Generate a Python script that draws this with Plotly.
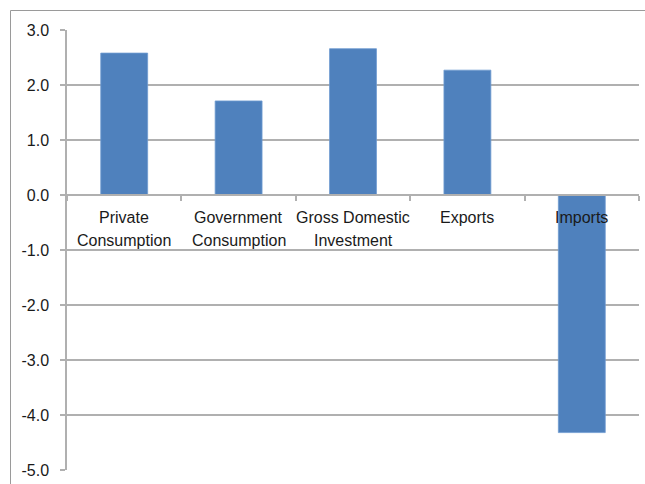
import plotly.graph_objects as go

categories = ["Private Consumption", "Government Consumption", "Gross Domestic Investment", "Exports", "Imports"]
label_line1 = ["Private", "Government", "Gross Domestic", "Exports", "Imports"]
label_line2 = ["Consumption", "Consumption", "Investment", "", ""]
values = [2.58, 1.71, 2.66, 2.27, -4.32]
y_ticks = [3.0, 2.0, 1.0, 0.0, -1.0, -2.0, -3.0, -4.0, -5.0]

W, H = 645, 484
ml, mr, mt, mb = 67, 6, 30, 14
pw, ph = W - ml - mr, H - mt - mb

fig = go.Figure()
fig.add_trace(go.Bar(
    x=categories, y=values,
    marker=dict(color="#4F81BD", line=dict(color="#6f9bd0", width=0.8)),
    width=0.41,
))

grid_col = "#b0b0b0"
font = "Liberation Sans, Arial, Helvetica, sans-serif"
fs = 16

fig.update_layout(
    width=W, height=H,
    margin=dict(l=ml, r=mr, t=mt, b=mb),
    paper_bgcolor="white", plot_bgcolor="white",
    showlegend=False,
    font=dict(family=font, size=fs, color="#1a1a1a"),
    xaxis=dict(
        type="category",
        anchor="free", position=(0 - y_ticks[-1]) / (y_ticks[0] - y_ticks[-1]),
        showline=True, linecolor=grid_col, linewidth=1.5,
        ticks="outside", tickson="boundaries", ticklen=5, tickcolor=grid_col, tickwidth=1.5,
        showticklabels=False, showgrid=False, zeroline=False,
        range=[-0.5, len(categories) - 0.5],
    ),
    yaxis=dict(
        range=[y_ticks[-1], y_ticks[0]],
        tickvals=y_ticks, ticktext=[f"{v:.1f}" for v in y_ticks],
        showgrid=True, gridcolor=grid_col, gridwidth=1.5,
        showline=True, linecolor=grid_col, linewidth=1.5,
        ticks="outside", ticklen=5, tickcolor=grid_col, tickwidth=1.5,
        ticklabelstandoff=8,
        zeroline=False,
        tickfont=dict(size=fs, color="#1a1a1a"),
    ),
)

for i, cat in enumerate(categories):
    fig.add_annotation(x=cat, y=0, xref="x", yref="y", text=label_line1[i],
                       showarrow=False, yanchor="middle", yshift=-22,
                       font=dict(size=fs, color="#1a1a1a"))
    if label_line2[i]:
        fig.add_annotation(x=cat, y=0, xref="x", yref="y", text=label_line2[i],
                           showarrow=False, yanchor="middle", yshift=-45,
                           font=dict(size=fs, color="#1a1a1a"))

# outer chart frame (cropped at right and bottom)
fig.add_shape(type="rect", xref="paper", yref="paper",
              x0=(10.5 - ml) / pw, x1=(W + 20 - ml) / pw,
              y0=-(mb + 20) / ph, y1=1 + (mt - 10.5) / ph,
              line=dict(color="#9a9a9a", width=1), layer="below")

fig.write_html("out.html")
